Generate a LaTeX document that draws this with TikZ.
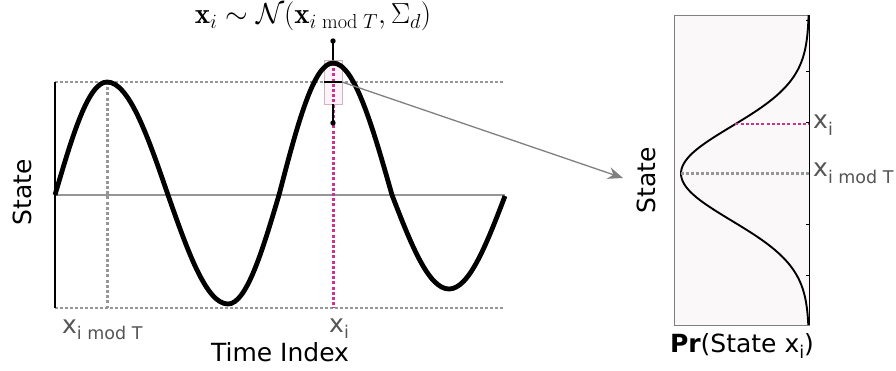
\RequirePackage{fix-cm}
\documentclass[tikz,border=0pt]{standalone}
\usepackage{fontspec}
\newfontfamily\dejavu{DejaVu Sans}
\usetikzlibrary{arrows.meta}
\definecolor{labelgray}{RGB}{85,85,85}
\definecolor{guidegray}{RGB}{150,150,150}
\definecolor{samplepink}{RGB}{205,50,145}
\definecolor{boxfill}{RGB}{252,242,247}
\definecolor{boxedge}{RGB}{205,180,192}
\definecolor{panelfill}{RGB}{251,248,250}
\newcommand{\lowsub}[1]{\raisebox{-0.25em}{\fontsize{17.5}{18}\selectfont #1}}
\tikzset{
  lab/.style={inner sep=0pt, text=labelgray, font=\dejavu\fontsize{25}{30}\selectfont},
  axlab/.style={inner sep=0pt, font=\dejavu\fontsize{25}{30}\selectfont},
  guide/.style={guidegray, line width=2.2pt, dash pattern=on 2.6pt off 2.4pt},
  guidev/.style={guidegray, line width=3pt, dash pattern=on 3pt off 2.2pt},
  pinkguide/.style={samplepink, line width=3pt, dash pattern=on 3pt off 2.2pt},
  signal/.style={line width=4.8pt, line join=round},
  whisker/.style={line width=1.4pt},
  zoomarrow/.style={gray, line width=1.3pt, -{Stealth[length=15pt,width=12pt]}}
}
\begin{document}
\begin{tikzpicture}[x=1pt,y=-1pt]
 \useasboundingbox (0,0) rectangle (896,371);
 % left panel: periodic signal
 \draw[guide] (55,82) -- (503,82);
 \draw[guide] (55,308) -- (503,308);
 \draw[guidegray, line width=1.5pt] (55,195) -- (505,195);
 \draw[guidev] (107,82) -- (107,308);
 \draw[line width=2.6pt] (55,82) -- (55,308);
 \draw[fill=boxfill, draw=boxedge, line width=0.8pt] (324,60) rectangle (342,104);
 \draw[pinkguide] (333,63) -- (333,308);
 \draw[signal] (55,195) sin (107,82) cos (168,195) sin (228,304) cos (279,195)
   sin (333,63) cos (392,195) sin (449,289) cos (505,196);
 % box plot of the sample
 \coordinate (wtop) at (333,41);
 \coordinate (wbot) at (333,123);
 \coordinate (med) at (342,82);
 \draw[whisker] (wtop) -- (333,60);
 \draw[whisker] (333,104) -- (wbot);
 \fill (wtop) circle (2.7pt);
 \fill (wbot) circle (2.7pt);
 \draw[whisker] (324,82) -- (med);
 \node[lab, anchor=base west] (xmodL) at (62,333) {x\lowsub{i mod T}};
 \node[lab, anchor=base west] (xiL) at (329,332) {x\lowsub{i}};
 \node[axlab, anchor=base] (timeL) at (280,361) {Time Index};
 \node[axlab, rotate=90] (stateL) at (22.5,192.5) {State};
 \node[inner sep=0pt, font=\fontsize{29}{33}\selectfont] (title) at (313,16.5)
   {$\mathbf{x}_i \sim \mathcal{N}(\mathbf{x}_{i \bmod T}, \Sigma_d)$};
 % right panel: density
 \coordinate (tip) at (623,178);
 \draw[zoomarrow] (med) -- (tip);
 \draw[fill=panelfill, draw=gray, line width=0.9pt] (674,15) rectangle (809,325);
 \draw[line width=1pt] (809,15) -- (809,325);
 \foreach \ty in {20.7,71.7,122.7,173.7,224.7,275.7}
   \draw[line width=1pt] (809,\ty) -- (805.5,\ty);
 \draw[line width=1.9pt] plot[domain=-3.372:3.223, samples=120]
   ({809-128*exp(-0.5*\x*\x)}, {173.5+47*\x});
 \draw[pinkguide, line width=2.6pt] (735.4,124) -- (809,124);
 \draw[guide, line width=2.6pt] (681,173.5) -- (809,173.5);
 \node[lab, anchor=base west] (xiR) at (813,129) {x\lowsub{i}};
 \node[lab, anchor=base west] (xmodR) at (813,177) {x\lowsub{i mod T}};
 \node[axlab, rotate=90] (stateR) at (646,180) {State};
 \node[axlab, anchor=base] (prR) at (742,352) {\textbf{Pr}(State x\lowsub{i})};
\end{tikzpicture}
\end{document}
